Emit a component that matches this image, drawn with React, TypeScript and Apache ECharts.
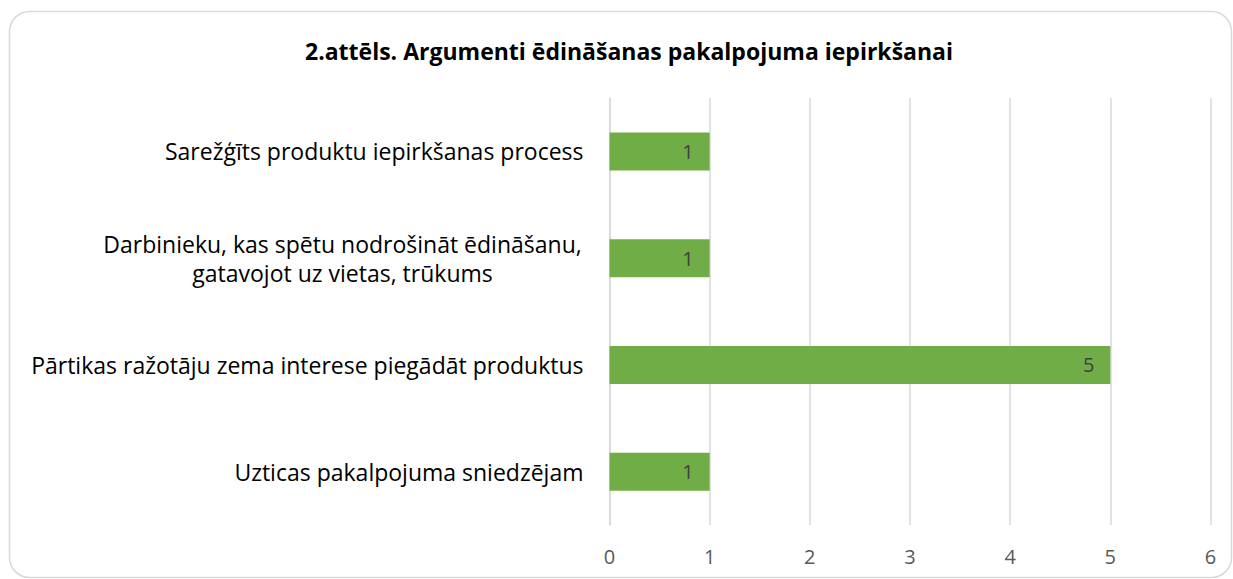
import React, { useEffect, useRef } from "react";
import * as echarts from "echarts";

const title = "2.attēls. Argumenti ēdināšanas pakalpojuma iepirkšanai";
const categories = [
  "Uzticas pakalpojuma sniedzējam",
  "Pārtikas ražotāju zema interese piegādāt produktus",
  "Darbinieku, kas spētu nodrošināt ēdināšanu,\ngatavojot uz vietas, trūkums",
  "Sarežģīts produktu iepirkšanas process",
];
const values = [1, 5, 1, 1];
const xTicks = [0, 1, 2, 3, 4, 5, 6];

const FONT = "'Open Sans', sans-serif";

export default function App() {
  const ref = useRef<HTMLDivElement>(null);
  useEffect(() => {
    if (!ref.current) return;
    const chart = echarts.init(ref.current, null, { renderer: "svg" });
    chart.setOption({
      animation: false,
      backgroundColor: "#ffffff",
      textStyle: { fontFamily: FONT },
      title: {
        text: title,
        left: 300,
        top: 34,
        textStyle: { fontSize: 23, fontWeight: "bold", color: "#000000", fontFamily: FONT },
      },
      graphic: [
        {
          type: "rect",
          shape: { x: 9.5, y: 11.5, width: 1222, height: 566, r: 20 },
          style: { fill: "none", stroke: "#d9d9d9", lineWidth: 1.5 },
          silent: true,
        },
      ],
      grid: { left: 609.5, right: 22.5, top: 98, bottom: 54, containLabel: false },
      xAxis: {
        type: "value",
        min: xTicks[0],
        max: xTicks[xTicks.length - 1],
        interval: 1,
        axisLine: { show: false },
        axisTick: { show: false },
        splitLine: { show: true, lineStyle: { color: "#d9d9d9", width: 1.5 } },
        axisLabel: { color: "#595959", fontSize: 20, margin: 21, fontFamily: FONT },
      },
      yAxis: {
        type: "category",
        data: categories,
        axisLine: { show: true, lineStyle: { color: "#d9d9d9", width: 1.5 } },
        axisTick: { show: false },
        axisLabel: {
          color: "#000000",
          fontSize: 23,
          margin: 26,
          fontFamily: FONT,
          lineHeight: 29,
          formatter: (v: string) => {
            if (v.indexOf("\n") >= 0) {
              return v
                .split("\n")
                .map((s) => "{c|" + s + "}")
                .join("\n");
            }
            return v;
          },
          rich: {
            c: {
              width: 482,
              align: "center",
              fontSize: 23,
              lineHeight: 29,
              color: "#000000",
              fontFamily: FONT,
            },
          },
        },
      },
      series: [
        {
          type: "bar",
          data: values,
          barWidth: 38,
          itemStyle: { color: "#70ad47" },
          label: {
            show: true,
            position: "insideRight",
            distance: 16,
            color: "#404040",
            fontSize: 20,
            fontFamily: FONT,
          },
        },
      ],
    });
    return () => chart.dispose();
  }, []);
  return (
    <div
      ref={ref}
      style={{ position: "fixed", left: 0, top: 0, width: 1233, height: 579 }}
    />
  );
}
